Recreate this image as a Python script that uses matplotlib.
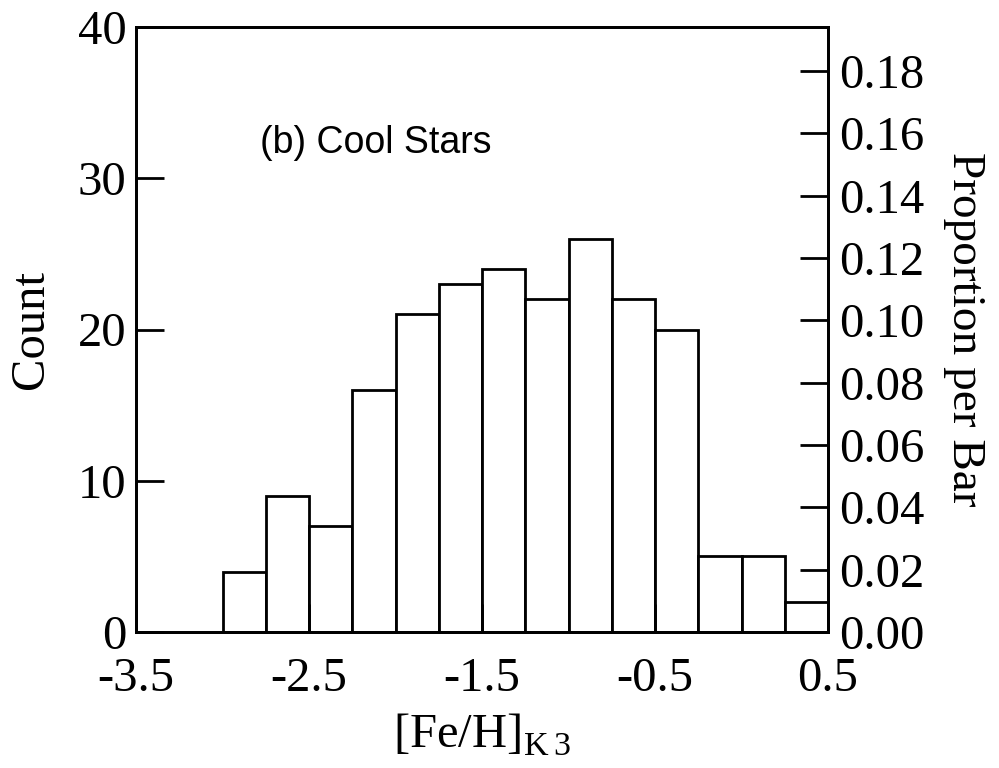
import numpy as np
import matplotlib
matplotlib.use('Agg')
import matplotlib.pyplot as plt

# histogram of [Fe/H]_K3 for cool stars, bin width 0.25
bin_edges = [-3.0, -2.75, -2.5, -2.25, -2.0, -1.75, -1.5, -1.25,
             -1.0, -0.75, -0.5, -0.25, 0.0, 0.25, 0.5]
counts = [4, 9, 7, 16, 21, 23, 24, 22, 26, 22, 20, 5, 5, 2]
x_ticks = [-3.5, -2.5, -1.5, -0.5, 0.5]
y_ticks = [0, 10, 20, 30, 40]
prop_ticks = [0.00, 0.02, 0.04, 0.06, 0.08, 0.10, 0.12, 0.14, 0.16, 0.18]

total = sum(counts)

plt.rcParams['font.family'] = 'Liberation Serif'
plt.rcParams['mathtext.fontset'] = 'custom'
plt.rcParams['mathtext.rm'] = 'Liberation Serif'

fig = plt.figure(figsize=(9.99, 7.68), dpi=100)
ax = fig.add_axes([136 / 999, 1 - 632 / 768, (828 - 136) / 999, (632 - 27) / 768])

lw = 2.0
fs = 35
widths = np.diff(bin_edges)
ax.bar(bin_edges[:-1], counts, width=widths, align='edge',
       color='white', edgecolor='black', linewidth=lw)

ax.set_xlim(-3.5, 0.5)
ax.set_ylim(0, 40)
ax.set_xticks(x_ticks)
ax.set_xticklabels(['%g' % v for v in x_ticks])
ax.set_yticks(y_ticks)
for s in ax.spines.values():
    s.set_linewidth(lw)
ax.tick_params(direction='in', length=20, width=lw, labelsize=fs)
ax.tick_params(axis='y', pad=7)
ax.tick_params(axis='x', pad=18)

ax.set_xlabel('[Fe/H]$_{\\mathrm{K\\,3}}$', fontsize=fs, labelpad=8)
ax.set_ylabel('Count', fontsize=fs, labelpad=18)

ax2 = ax.twinx()
ax2.set_ylim(0, 40 / total)
ax2.set_yticks(prop_ticks)
ax2.set_yticklabels(['%.2f' % v for v in prop_ticks])
ax2.tick_params(direction='in', length=20, width=lw, labelsize=fs, pad=8)
for s in ax2.spines.values():
    s.set_linewidth(lw)
ax2.set_ylabel('Proportion per Bar', fontsize=34, rotation=270, labelpad=44)

ax.text(-2.785, 32.3, '(b) Cool Stars', fontsize=27, family='Liberation Sans',
        va='center', ha='left')

fig.savefig('out.png', dpi=100)
